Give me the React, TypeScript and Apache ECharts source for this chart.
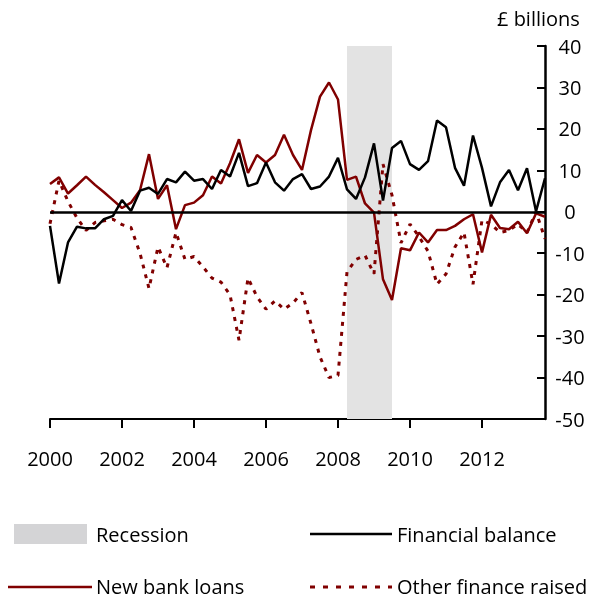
import React, { useEffect, useRef } from "react";
import * as echarts from "echarts";

const years = [2000, 2001, 2002, 2003, 2004, 2005, 2006, 2007, 2008, 2009, 2010, 2011, 2012, 2013];
const quarters = ["Q1", "Q2", "Q3", "Q4"];
const categories: string[] = [];
years.forEach((y) => quarters.forEach((q) => categories.push(`${y} ${q}`)));

const financialBalance = [
  -3.4, -17.3, -7.4, -3.6, -4.0, -4.0, -1.8, -1.0, 2.8, 0.2, 5.1, 5.8,
  4.3, 7.9, 7.1, 9.7, 7.5, 7.9, 5.5, 10.1, 8.5, 14.2, 6.2, 6.9,
  11.9, 7.1, 5.1, 7.9, 9.1, 5.5, 6.1, 8.5, 13.0, 5.4, 3.1, 8.3,
  16.5, 2.7, 15.4, 17.1, 11.5, 10.1, 12.2, 22.0, 20.4, 10.6, 6.3, 18.4,
  10.6, 1.3, 7.1, 10.1, 5.2, 10.5, 0.1, 8.1,
];

const newBankLoans = [
  6.7, 8.3, 4.4, 6.4, 8.5, 6.5, 4.7, 2.8, 0.9, 2.2, 5.2, 13.9,
  3.1, 6.4, -4.2, 1.6, 2.2, 4.0, 8.5, 6.8, 11.7, 17.5, 9.4, 13.7,
  11.9, 13.7, 18.6, 13.7, 10.1, 19.7, 27.8, 31.2, 27.1, 7.7, 8.5, 2.0,
  -0.2, -16.3, -21.3, -8.8, -9.3, -5.0, -7.4, -4.4, -4.4, -3.4, -1.8, -0.6,
  -9.8, -0.7, -3.9, -4.2, -2.4, -5.2, -0.4, -1.2,
];

const otherFinance = [
  -2.9, 7.5, 2.5, -1.5, -4.5, -2.6, -2.2, -1.8, -3.1, -3.8, -10.0, -18.5,
  -8.5, -13.5, -5.0, -11.5, -10.8, -13.3, -16.0, -17.0, -20.0, -31.0, -16.0, -20.5,
  -23.5, -21.5, -23.5, -22.0, -19.5, -27.0, -35.0, -40.0, -39.5, -14.5, -11.5, -10.5,
  -15.0, 11.5, 4.0, -7.5, -3.0, -6.0, -9.5, -17.5, -15.0, -8.5, -5.0, -17.5,
  -2.0, -3.0, -5.0, -4.5, -3.0, -5.0, 0.0, -6.5,
];

const recessionStart = "2008 Q2";
const recessionEnd = "2009 Q3";

const RED = "#800000";
const FONT = "Open Sans";

export default function App() {
  const ref = useRef<HTMLDivElement>(null);
  useEffect(() => {
    if (!ref.current) return;
    const chart = echarts.init(ref.current, null, { renderer: "svg" });
    const showTick = (idx: number) => idx % 8 === 0;
    const legendText = (text: string, x: number, y: number) => ({
      type: "text",
      x,
      y,
      style: { text, fontSize: 20, lineHeight: 20, fontFamily: FONT, fill: "#000", verticalAlign: "middle" },
    });
    chart.setOption({
      animation: false,
      textStyle: { fontFamily: FONT },
      grid: { left: 50, right: 53, top: 46, bottom: 179, containLabel: false },
      xAxis: {
        type: "category",
        data: categories,
        boundaryGap: false,
        axisLine: { show: true, onZero: false, lineStyle: { color: "#000", width: 2 } },
        axisTick: { show: true, interval: (i: number) => showTick(i), length: 9, lineStyle: { color: "#000", width: 2 } },
        axisLabel: {
          interval: (i: number) => showTick(i),
          formatter: (v: string) => v.slice(0, 4),
          color: "#000",
          fontSize: 20,
          fontFamily: FONT,
          margin: 29,
        },
        splitLine: { show: false },
      },
      yAxis: {
        type: "value",
        position: "right",
        min: -50,
        max: 40,
        interval: 10,
        axisLine: { show: true, lineStyle: { color: "#000", width: 2.5 } },
        axisTick: { show: true, inside: true, length: 8, lineStyle: { color: "#000", width: 2 } },
        axisLabel: { color: "#000", fontSize: 20, fontFamily: FONT, margin: 25, align: "center" },
        splitLine: { show: false },
      },
      graphic: [
        { type: "text", left: 497, top: 8, style: { text: "£ billions", fontSize: 20, fontFamily: FONT, fill: "#000" } },
        { type: "rect", shape: { x: 14, y: 524, width: 73, height: 20 }, style: { fill: "#d4d4d6" } },
        legendText("Recession", 96, 534),
        { type: "line", shape: { x1: 310, y1: 534, x2: 392, y2: 534 }, style: { stroke: "#000", lineWidth: 2.5 } },
        legendText("Financial balance", 397, 534),
        { type: "line", shape: { x1: 8, y1: 587, x2: 92, y2: 587 }, style: { stroke: RED, lineWidth: 2.5 } },
        legendText("New bank loans", 96, 586),
        { type: "line", shape: { x1: 310, y1: 587, x2: 392, y2: 587 }, style: { stroke: RED, lineWidth: 3, lineDash: [5, 8] } },
        legendText("Other finance raised", 397, 586),
      ],
      series: [
        {
          name: "Other finance raised",
          type: "line",
          data: otherFinance,
          symbol: "none",
          lineStyle: { color: RED, width: 3, type: [4, 6] },
          z: 2,
          markArea: {
            silent: true,
            itemStyle: { color: "#e3e3e3" },
            data: [[{ xAxis: recessionStart }, { xAxis: recessionEnd }]],
          },
        },
        {
          name: "New bank loans",
          type: "line",
          data: newBankLoans,
          symbol: "none",
          lineStyle: { color: RED, width: 2.5 },
          z: 3,
        },
        {
          name: "Financial balance",
          type: "line",
          data: financialBalance,
          symbol: "none",
          lineStyle: { color: "#000", width: 2.5 },
          z: 4,
          markLine: {
            silent: true,
            symbol: "none",
            label: { show: false },
            lineStyle: { color: "#000", width: 2.5, type: "solid" },
            data: [{ yAxis: 0 }],
          },
        },
      ],
    });
    return () => chart.dispose();
  }, []);
  return <div ref={ref} style={{ position: "fixed", left: 0, top: 0, width: 598, height: 598 }} />;
}
